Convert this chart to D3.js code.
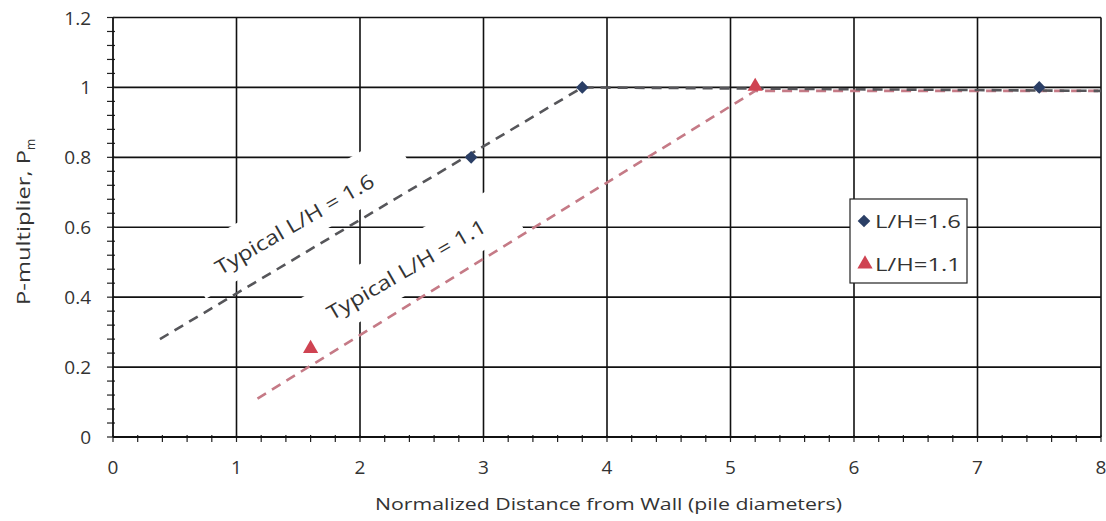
<!DOCTYPE html>
<html>
<head>
<meta charset="utf-8">
<script src="https://cdn.jsdelivr.net/npm/d3@7"></script>
<style>
  html, body { margin: 0; padding: 0; background: #fff; }
  svg text { font-family: "Open Sans", "DejaVu Sans", sans-serif; fill: #333; }
</style>
</head>
<body>
<svg id="chart" width="1106" height="521"></svg>
<script>
// Measured p-multipliers
const seriesNames = ["L/H=1.6", "L/H=1.1"];
const distLH16 = [2.9, 3.8, 7.5];
const pmLH16 = [0.8, 1.0, 1.0];
const distLH11 = [1.6, 5.2];
const pmLH11 = [0.25, 1.0];

// Typical trend lines
const typicalLabels = ["Typical L/H = 1.6", "Typical L/H = 1.1"];
const typical16X = [0.38, 3.8, 8.0];
const typical16Y = [0.28, 1.0, 0.99];
const typical11X = [1.17, 5.2, 8.0];
const typical11Y = [0.11, 0.99, 0.99];

// Axes
const xTicks = [0, 1, 2, 3, 4, 5, 6, 7, 8];
const yTicks = [0, 0.2, 0.4, 0.6, 0.8, 1, 1.2];
const xTitle = "Normalized Distance from Wall (pile diameters)";

const svg = d3.select("#chart");
const plotLeft = 113, plotRight = 1101, plotTop = 17.5, plotBottom = 437;

const x = d3.scaleLinear().domain([0, 8]).range([plotLeft, plotRight]);
const y = d3.scaleLinear().domain([0, 1.2]).range([plotBottom, plotTop]);

const colLH16 = "#2b3f66";
const colLH11 = "#cf4352";
const lineLH16 = "#56565a";
const lineLH11 = "#c57a86";

// Gridlines
const grid = svg.append("g");
grid.selectAll("line.v").data(xTicks.slice(1)).enter().append("line")
  .attr("x1", d => x(d)).attr("x2", d => x(d))
  .attr("y1", y(1.2)).attr("y2", y(0))
  .attr("stroke", "#111").attr("stroke-width", 1.6);
grid.selectAll("line.h").data(yTicks.slice(1)).enter().append("line")
  .attr("x1", x(0)).attr("x2", x(8))
  .attr("y1", d => y(d)).attr("y2", d => y(d))
  .attr("stroke", "#111").attr("stroke-width", 1.6);

// Axes with minor ticks
const xMinor = d3.range(0, 8.0001, 0.2);
const yMinor = d3.range(0, 1.2001, 0.04);
const axisG = svg.append("g");
axisG.selectAll("line.xm").data(xMinor).enter().append("line")
  .attr("x1", d => x(d)).attr("x2", d => x(d))
  .attr("y1", plotBottom - 2).attr("y2", plotBottom + 5)
  .attr("stroke", "#222").attr("stroke-width", 1.2);
axisG.selectAll("line.ym").data(yMinor).enter().append("line")
  .attr("x1", plotLeft - 6).attr("x2", plotLeft + 2)
  .attr("y1", d => y(d)).attr("y2", d => y(d))
  .attr("stroke", "#222").attr("stroke-width", 1.2);
axisG.append("line").attr("x1", plotLeft).attr("x2", plotLeft).attr("y1", plotTop).attr("y2", plotBottom)
  .attr("stroke", "#111").attr("stroke-width", 1.8);
axisG.append("line").attr("x1", plotLeft).attr("x2", plotRight).attr("y1", plotBottom).attr("y2", plotBottom)
  .attr("stroke", "#111").attr("stroke-width", 1.8);

// Tick labels
svg.append("g").selectAll("text").data(xTicks).enter().append("text")
  .attr("x", d => x(d)).attr("y", 474)
  .attr("text-anchor", "middle").attr("font-size", 19)
  .text(d => d3.format("")(d));
svg.append("g").selectAll("text").data(yTicks).enter().append("text")
  .attr("x", 91).attr("y", d => y(d) + 7)
  .attr("text-anchor", "end").attr("font-size", 19)
  .text(d => d3.format("")(d));

// Axis titles
svg.append("text").attr("x", (375 + 842) / 2).attr("y", 510)
  .attr("text-anchor", "middle").attr("font-size", 17)
  .attr("textLength", 467).attr("lengthAdjust", "spacingAndGlyphs")
  .text(xTitle);
const yt = svg.append("text")
  .attr("transform", "translate(30,305) rotate(-90)")
  .attr("text-anchor", "start").attr("font-size", 19);
yt.append("tspan").attr("textLength", 155).attr("lengthAdjust", "spacingAndGlyphs")
  .text("P-multiplier, P");
yt.append("tspan").attr("font-size", 12).attr("dy", 5).text("m");

// Labels for the typical lines, on white boxes
const labelPos = [[299, 216], [405, 267]];
const labelShift = [[-8, 12], [0, 10]];
typicalLabels.forEach((t, i) => {
  const g = svg.append("g")
    .attr("transform", `translate(${labelPos[i][0]},${labelPos[i][1]}) rotate(-30)`);
  g.append("rect").attr("x", -122).attr("y", -25).attr("width", 244).attr("height", 50)
    .attr("fill", "#fff");
  g.append("text").attr("x", labelShift[i][0]).attr("y", labelShift[i][1])
    .attr("text-anchor", "middle")
    .attr("font-size", 20).attr("fill", "#1a1a1a")
    .attr("textLength", 180).attr("lengthAdjust", "spacingAndGlyphs")
    .text(t);
});

// Typical dashed lines
const line = d3.line().x(d => x(d[0])).y(d => y(d[1]));
svg.append("path").datum(d3.zip(typical11X, typical11Y)).attr("d", line)
  .attr("fill", "none").attr("stroke", lineLH11).attr("stroke-width", 2.6)
  .attr("stroke-dasharray", "10,7");
svg.append("path").datum(d3.zip(typical16X, typical16Y)).attr("d", line)
  .attr("fill", "none").attr("stroke", lineLH16).attr("stroke-width", 2.6)
  .attr("stroke-dasharray", "10,7");

// Markers
const diamond = d3.symbol().type(d3.symbolSquare).size(80);
const triangle = d3.symbol().type(d3.symbolTriangle).size(100);
svg.append("g").selectAll("path").data(d3.zip(distLH16, pmLH16)).enter().append("path")
  .attr("d", diamond)
  .attr("transform", d => `translate(${x(d[0])},${y(d[1])}) rotate(45)`)
  .attr("fill", colLH16);
svg.append("g").selectAll("path").data(d3.zip(distLH11, pmLH11)).enter().append("path")
  .attr("d", triangle)
  .attr("transform", d => `translate(${x(d[0])},${y(d[1]) - 1})`)
  .attr("fill", colLH11);

// Legend
const lg = svg.append("g");
lg.append("rect").attr("x", 850).attr("y", 199).attr("width", 117).attr("height", 84)
  .attr("fill", "#fff").attr("stroke", "#222").attr("stroke-width", 1.2);
lg.append("path").attr("d", diamond).attr("transform", "translate(864,221) rotate(45)")
  .attr("fill", colLH16);
lg.append("path").attr("d", triangle).attr("transform", "translate(865,264)")
  .attr("fill", colLH11);
seriesNames.forEach((s, i) => {
  lg.append("text").attr("x", 875).attr("y", i === 0 ? 228 : 271)
    .attr("font-size", 18).attr("fill", "#222")
    .attr("textLength", 86).attr("lengthAdjust", "spacingAndGlyphs")
    .text(s);
});
</script>
</body>
</html>
